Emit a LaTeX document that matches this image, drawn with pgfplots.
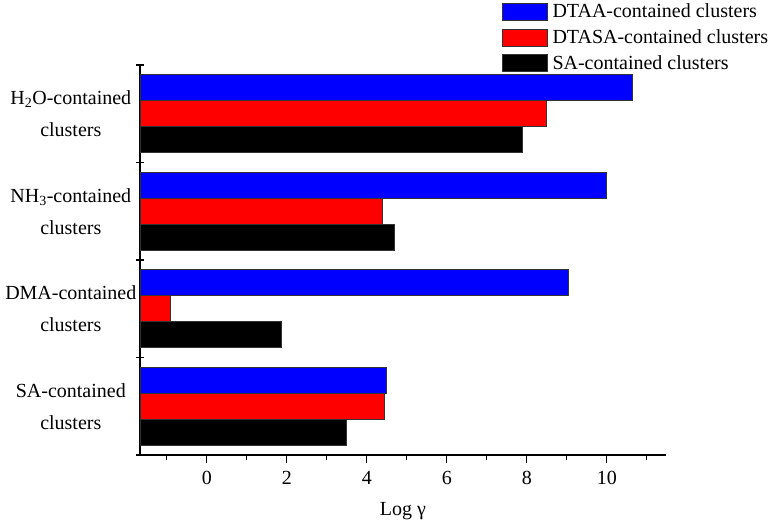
\documentclass[border=0pt]{standalone}
\usepackage{pgfplots}
\pgfplotsset{compat=1.18}
\usepackage{fontspec}
\setmainfont{Liberation Serif}
\begin{document}
\begin{tikzpicture}
\path[use as bounding box] (0,0) rectangle (774bp,524bp);
\begin{axis}[
  at={(140bp,69bp)}, anchor=south west,
  scale only axis, width=526bp, height=390bp,
  xbar, bar width=26bp,
  x coord trafo/.code={\pgfmathparse{#1+1.67}},
  x coord inv trafo/.code={\pgfmathparse{#1-1.67}},
  xmin=-1.67, xmax=11.48,
  ymin=-0.5, ymax=3.5,
  axis x line*=bottom, axis y line*=left,
  axis line style={line width=1.3bp, black},
  every tick/.append style={line width=1.3bp, black},
  tick align=outside,
  major tick length=8bp, minor tick length=5bp,
  xtick={0,2,4,6,8,10}, xticklabels={0,2,4,6,8,10},
  minor xtick={-1,1,3,5,7,9,11},
  ytick={-0.5,0.5,1.5,2.5,3.5}, yticklabels={},
  ytick style={xshift=4bp},
  extra y ticks={0,1,2,3},
  extra y tick labels={{SA-contained\\clusters},{DMA-contained\\clusters},{NH\textsubscript{3}-contained\\clusters},{H\textsubscript{2}O-contained\\clusters}},
  extra y tick style={major tick length=0pt, tick style={draw=none}},
  /pgf/number format/assume math mode=true,
  xticklabel style={font=\fontsize{20bp}{24bp}\selectfont, anchor=base, inner sep=0pt, yshift=-21.7bp},
  yticklabel style={font=\fontsize{20bp}{32bp}\selectfont, text width=140bp, align=center, anchor=east, inner sep=0pt, xshift=1bp},
  xlabel={Log γ},
  xlabel style={font=\fontsize{20bp}{24bp}\selectfont, at={(axis description cs:0.5,0)}, anchor=base, inner sep=0pt, yshift=-60bp},
  legend style={at={(rel axis cs:0.6888,1.1597)}, anchor=north west, draw=none, fill=none,
    inner sep=0pt, outer sep=0pt, row sep=8bp, column sep=4.4bp,
    font=\fontsize{20bp}{24bp}\selectfont, nodes={inner sep=0pt}},
  legend cell align=left,
  mylegend/.style={legend image code/.code={\draw[##1, draw=black!80, line width=0.8bp] (0bp,-8.5bp) rectangle (45bp,8.5bp);}},
]
\addplot[fill=blue, draw=black!80, line width=0.8bp, bar shift=26bp, mylegend] coordinates {(4.50,0) (9.04,1) (9.98,2) (10.63,3)};
\addplot[fill=red, draw=black!80, line width=0.8bp, bar shift=0bp, mylegend] coordinates {(4.43,0) (-0.92,1) (4.40,2) (8.48,3)};
\addplot[fill=black, draw=black!80, line width=0.8bp, bar shift=-26bp, mylegend] coordinates {(3.48,0) (1.87,1) (4.69,2) (7.89,3)};
\legend{DTAA-contained clusters, DTASA-contained clusters, SA-contained clusters}
\end{axis}
\end{tikzpicture}
\end{document}
